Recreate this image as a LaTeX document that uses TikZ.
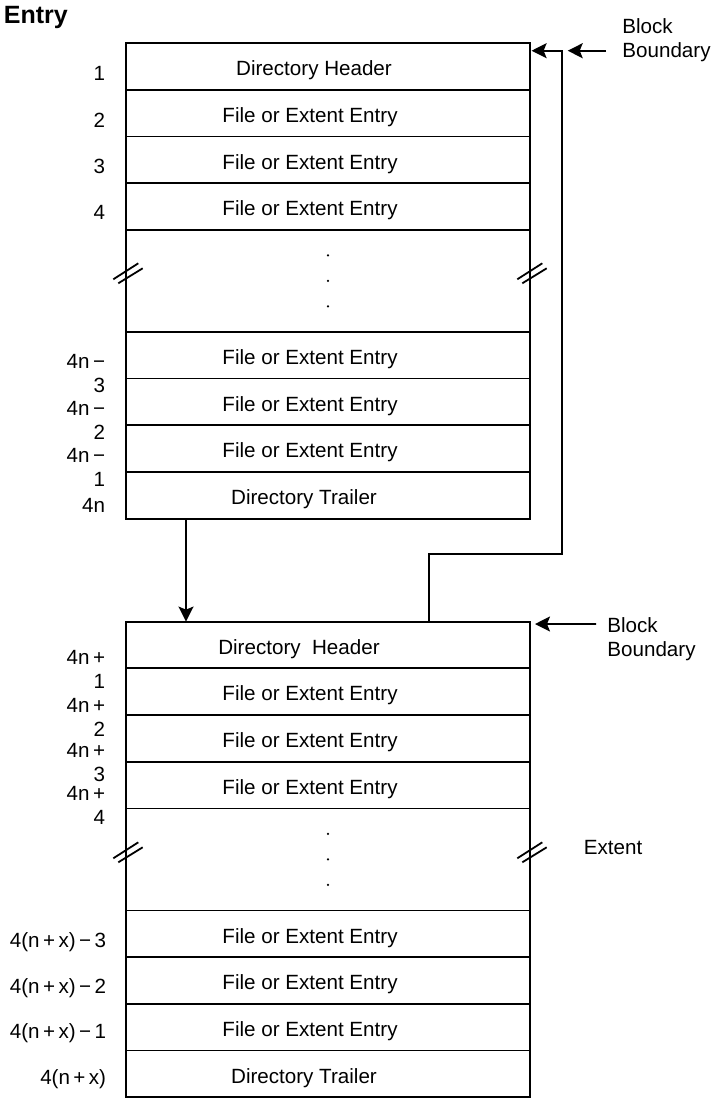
\documentclass[tikz,border=0pt]{standalone}
\usepackage{fontspec}
\setmainfont{Liberation Sans}
\usetikzlibrary{positioning,arrows.meta}

\begin{document}
\begin{tikzpicture}[x=0.5pt,y=-0.5pt,line width=0.9pt,
    cell/.style={draw,minimum width=202pt,minimum height=23.35pt,inner sep=0pt,outer sep=0pt},
    gap/.style={draw,minimum width=202pt,minimum height=51pt,inner sep=0pt,outer sep=0pt},
    rowtext/.style={font=\fontsize{10.3}{12}\selectfont,inner sep=0pt,yshift=-2pt},
    entry/.style={cell,label={[rowtext,xshift=-9pt]center:File or Extent Entry}},
    trailer/.style={cell,label={[rowtext,xshift=-12pt]center:Directory Trailer}},
    num/.style={anchor=north east,inner sep=0pt,align=right,font=\fontsize{10.3}{12}\selectfont},
    side/.style={anchor=north west,inner sep=0pt,align=left,font=\fontsize{10.3}{12}\selectfont},
    arr/.style={-{Stealth[length=7.5pt,width=7.5pt,inset=1.5pt]}}]
    \useasboundingbox (0,0) rectangle (715,1098);
    \node[anchor=north west,inner sep=0pt,font=\fontsize{12.5}{14}\selectfont\bfseries] (title) at (3,5.5) {Entry};
    % first block
    \node[cell,label={[rowtext,xshift=-7pt]center:Directory Header}] (t1) at (328,66.35) {};
    \node[entry,below=0pt of t1] (t2) {};
    \node[entry,below=0pt of t2] (t3) {};
    \node[entry,below=0pt of t3] (t4) {};
    \node[gap,below=0pt of t4] (tgap) {};
    \node[entry,below=0pt of tgap] (t5) {};
    \node[entry,below=0pt of t5] (t6) {};
    \node[entry,below=0pt of t6] (t7) {};
    \node[trailer,below=0pt of t7] (t8) {};
    % second block
    \node[cell,label={[rowtext,xshift=-14.5pt]center:Directory\ \ Header}] (b1) at (328,644.95) {};
    \node[entry,below=0pt of b1] (b2) {};
    \node[entry,below=0pt of b2] (b3) {};
    \node[entry,below=0pt of b3] (b4) {};
    \node[gap,below=0pt of b4] (bgap) {};
    \node[entry,below=0pt of bgap] (b5) {};
    \node[entry,below=0pt of b5] (b6) {};
    \node[entry,below=0pt of b6] (b7) {};
    \node[trailer,below=0pt of b7] (b8) {};
    \foreach \g in {tgap,bgap}
        \foreach \k in {-1,0,1}
            \fill ([yshift=\k*12.75pt]\g.center) circle (0.6pt);
    \foreach \bx/\by in {126/273,530/273,126/852,530/852} {
        \draw (\bx-12.7,\by+6.3) -- (\bx+12.3,\by-9.7);
        \draw (\bx-7.7,\by+10.3) -- (\bx+16.7,\by-4.7);
    }
    % entry numbers
    \node[num] (l1) at (106,65) {1};
    \node[num] (l2) at (106,112) {2};
    \node[num] (l3) at (106,158) {3};
    \node[num] (l4) at (106,204) {4};
    \node[num] (l5) at (106,353) {4n\,−\\3};
    \node[num] (l6) at (106,400) {4n\,−\\2};
    \node[num] (l7) at (106,447) {4n\,−\\1};
    \node[num] (l8) at (106,497) {4n};
    \node[num] (m1) at (106,649) {4n\,+\\1};
    \node[num] (m2) at (106,697) {4n\,+\\2};
    \node[num] (m3) at (106,742) {4n\,+\\3};
    \node[num] (m4) at (106,785) {4n\,+\\4};
    \node[num] (m5) at (107,932) {4(n\,+\,x)\,−\,3};
    \node[num] (m6) at (107,978) {4(n\,+\,x)\,−\,2};
    \node[num] (m7) at (107,1023) {4(n\,+\,x)\,−\,1};
    \node[num] (m8) at (107,1069) {4(n\,+\,x)};
    % boundaries
    \node[side] (bnd1) at (621.5,17.5) {Block\\Boundary};
    \node[side] (bnd2) at (606.5,616.5) {Block\\Boundary};
    \node[anchor=west,inner sep=0pt,font=\fontsize{10.3}{12}\selectfont] (ext) at (583,848) {Extent};
    \coordinate (turn) at (562,554);
    \coordinate (bs1) at (606,50.7);
    \coordinate (bh1) at (567.7,50.7);
    \coordinate (bs2) at (596,624);
    \draw[arr] ([xshift=30pt]t8.south west) -- ([xshift=30pt]b1.north west);
    \draw[arr] ([xshift=151.5pt]b1.north west) |- (turn) |- ([xshift=0.8pt,yshift=-3.85pt]t1.north east);
    \draw[arr] (bs1) -- (bh1);
    \draw[arr] (bs2) -- ([xshift=2.5pt,yshift=-1.2pt]b1.north east);
\end{tikzpicture}
\end{document}
